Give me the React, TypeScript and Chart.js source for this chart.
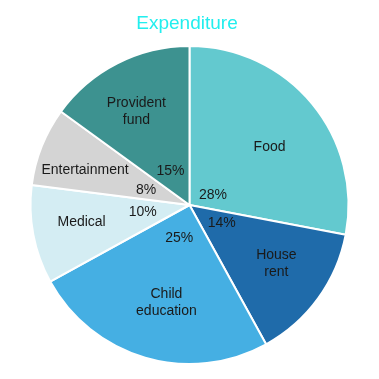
import React, { useEffect, useRef } from "react";
import { Chart, registerables } from "chart.js";

Chart.register(...registerables);

const categories = ["Food", "House rent", "Child education", "Medical", "Entertainment", "Provident fund"];
const values = [28, 14, 25, 10, 8, 15];
const colors = ["#63C9CF", "#1F6BAA", "#45AFE3", "#D4EDF3", "#D4D4D4", "#3D9290"];
const titleText = "Expenditure";

// label placement: fraction of radius and angular nudge (degrees) from slice middle
const nameRadius = [0.627, 0.657, 0.626, 0.686, 0.694, 0.684];
const nameNudge = [3.0, -2.3, -2.8, 2.4, -2.8, -2.2];
const pctRadius = [0.164, 0.23, 0.21, 0.297, 0.291, 0.25];
const pctNudge = [13.9, -7.5, 1.8, 3.3, -1.6, -1.5];

const DEG = Math.PI / 180;

const labelPlugin = {
  id: "sliceLabels",
  afterDatasetsDraw(chart: any) {
    const ctx = chart.ctx;
    const meta = chart.getDatasetMeta(0);
    const total = values.reduce((a, b) => a + b, 0);
    ctx.save();
    ctx.fillStyle = "#1a1a1a";
    ctx.textAlign = "center";
    ctx.textBaseline = "alphabetic";
    ctx.font = "14px 'Liberation Sans', Arial, sans-serif";
    const capHalf = 5;
    meta.data.forEach((arc: any, i: number) => {
      const p = arc.getProps(["x", "y", "startAngle", "endAngle", "outerRadius"], true);
      const mid = (p.startAngle + p.endAngle) / 2;
      const r = p.outerRadius;
      const lines = categories[i].split(" ");
      const na = mid + nameNudge[i] * DEG;
      const nx = p.x + Math.cos(na) * r * nameRadius[i];
      const ny = p.y + Math.sin(na) * r * nameRadius[i];
      const lh = 17;
      lines.forEach((ln, k) => {
        ctx.fillText(ln, nx, ny + capHalf + (k - (lines.length - 1) / 2) * lh);
      });
      const pa = mid + pctNudge[i] * DEG;
      const px = p.x + Math.cos(pa) * r * pctRadius[i];
      const py = p.y + Math.sin(pa) * r * pctRadius[i];
      ctx.fillText(Math.round((values[i] / total) * 100) + "%", px, py + capHalf);
    });
    ctx.restore();
  },
};

const titlePlugin = {
  id: "topTitle",
  afterDraw(chart: any) {
    const ctx = chart.ctx;
    ctx.save();
    ctx.fillStyle = "#22EEEE";
    ctx.font = "19px 'Liberation Sans', Arial, sans-serif";
    ctx.textAlign = "center";
    ctx.textBaseline = "alphabetic";
    ctx.fillText(titleText, 187, 29);
    ctx.restore();
  },
};

export default function App() {
  const ref = useRef<HTMLCanvasElement>(null);
  useEffect(() => {
    document.body.style.margin = "0";
    const chart = new Chart(ref.current!, {
      type: "pie",
      data: {
        labels: categories,
        datasets: [
          {
            data: values,
            backgroundColor: colors,
            borderColor: "#ffffff",
            borderWidth: 2,
          },
        ],
      },
      options: {
        animation: false,
        responsive: false,
        layout: { padding: { top: 45, bottom: 14, left: 0, right: 0 } },
        plugins: {
          legend: { display: false },
          tooltip: { enabled: false },
          title: { display: false },
        },
      },
      plugins: [labelPlugin, titlePlugin],
    });
    return () => chart.destroy();
  }, []);
  return (
    <div style={{ width: 379, height: 379 }}>
      <canvas ref={ref} width={379} height={379} style={{ width: 379, height: 379 }} />
    </div>
  );
}
